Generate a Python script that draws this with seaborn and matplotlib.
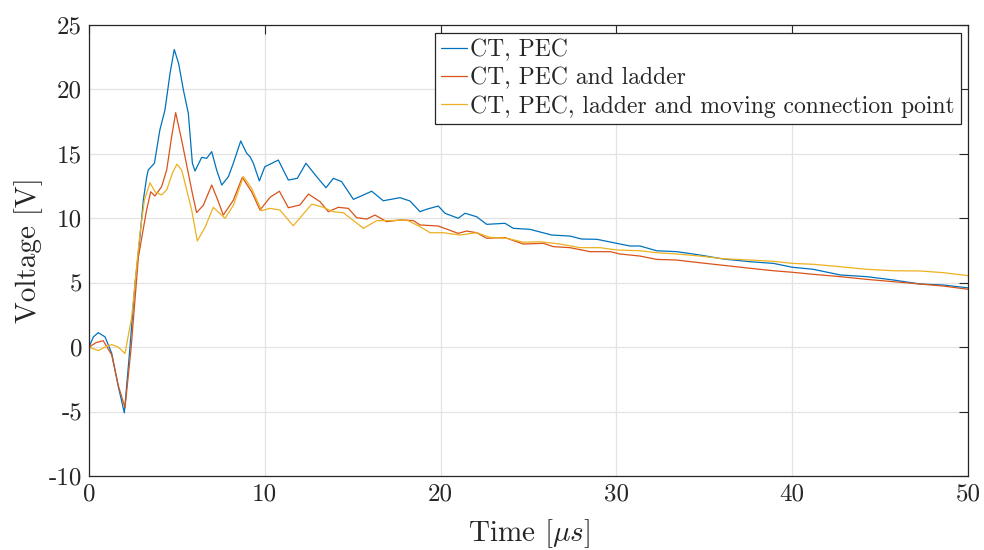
import numpy as np
import pandas as pd
import matplotlib
matplotlib.use("Agg")
import matplotlib.pyplot as plt
from matplotlib.ticker import FixedLocator, StrMethodFormatter
import seaborn as sns

series_names = ["CT, PEC", "CT, PEC and ladder", "CT, PEC, ladder and moving connection point"]

t_pec = [0, 0.25, 0.53, 0.91, 1.29, 1.67, 2.01, 2.3, 2.62, 2.9, 3.09, 3.28, 3.37, 3.72, 4.03, 4.32,
         4.61, 4.85, 5.1, 5.37, 5.65, 5.88, 6.03, 6.41, 6.69, 6.98, 7.26, 7.55, 7.93, 8.21, 8.63,
         8.97, 9.16, 9.35, 9.69, 10.0, 10.3, 10.77, 11.05, 11.34, 11.85, 12.34, 12.95, 13.48, 13.9,
         14.37, 15.04, 15.4, 16.08, 16.74, 17.69, 18.26, 18.83, 19.2, 19.87, 20.25, 21.0, 21.39,
         22.05, 22.62, 23.66, 24.14, 25.09, 26.32, 27.36, 28.02, 28.88, 30.01, 30.77, 31.34, 32.29,
         33.43, 34.75, 36.08, 37.6, 38.93, 40.01, 41.2, 42.74, 44.24, 45.76, 47.27, 48.6, 50]
v_pec = [0, 0.8, 1.12, 0.8, -0.47, -3.07, -5.1, -0.5, 4.95, 8.57, 11.4, 13.2, 13.75, 14.27, 16.85, 18.4,
         21.25, 23.1, 22.0, 19.95, 18.15, 14.27, 13.67, 14.73, 14.65, 15.17, 13.75, 12.58, 13.23, 14.27, 16.0,
         15.04, 14.78, 14.27, 12.9, 14.0, 14.2, 14.52, 13.75, 12.97, 13.1, 14.27, 13.23, 12.37, 13.1,
         12.84, 11.47, 11.68, 12.1, 11.36, 11.6, 11.34, 10.51, 10.7, 10.95, 10.39, 10.0, 10.39,
         10.12, 9.53, 9.61, 9.22, 9.14, 8.7, 8.62, 8.39, 8.37, 8.06, 7.85, 7.85, 7.48,
         7.41, 7.15, 6.84, 6.63, 6.5, 6.2, 6.04, 5.6, 5.47, 5.21, 4.9, 4.82, 4.6]

t_ladder = [0, 0.4, 0.81, 1.29, 1.67, 2.05, 2.4, 2.81, 3.27, 3.51, 3.75, 4.13, 4.42, 4.7, 4.93, 5.27,
            5.65, 5.9, 6.12, 6.5, 6.98, 7.3, 7.64, 8.21, 8.72, 9.25, 9.73, 10.3, 10.83, 11.34, 12.0,
            12.48, 13.14, 13.61, 14.18, 14.75, 15.22, 15.8, 16.27, 16.93, 17.69, 18.45, 18.83, 19.87,
            21.0, 21.48, 22.05, 22.62, 23.66, 24.71, 25.84, 26.41, 27.36, 28.5, 29.64, 30.2, 31.34,
            32.29, 33.43, 34.75, 36.08, 37.6, 38.93, 40.01, 41.2, 42.74, 44.24, 45.76, 47.27, 48.6, 50]
v_ladder = [0, 0.35, 0.5, -0.6, -3.0, -4.7, 0.0, 7.0, 10.6, 12.06, 11.73, 12.45, 13.75, 16.33, 18.2, 16.07,
            13.49, 11.8, 10.44, 11.0, 12.58, 11.5, 10.25, 11.4, 13.18, 12.06, 10.64, 11.63, 12.1, 10.82, 11.03,
            11.88, 11.29, 10.51, 10.85, 10.77, 10.05, 9.94, 10.25, 9.74, 9.87, 9.82, 9.48, 9.4,
            8.83, 9.01, 8.88, 8.45, 8.5, 8.0, 8.06, 7.8, 7.72, 7.41, 7.41, 7.23, 7.07,
            6.81, 6.76, 6.55, 6.35, 6.12, 5.93, 5.81, 5.65, 5.47, 5.26, 5.08, 4.9, 4.74, 4.49]

t_moving = [0, 0.53, 0.9, 1.29, 1.67, 2.05, 2.43, 2.9, 3.15, 3.47, 3.75, 4.13, 4.42, 4.74, 5.0, 5.27,
            5.56, 5.84, 6.16, 6.6, 7.07, 7.74, 8.21, 8.78, 9.25, 9.82, 10.3, 10.86, 11.62, 12.67, 13.33,
            13.9, 14.47, 15.61, 16.36, 17.12, 18.07, 18.83, 19.4, 20.15, 21.1, 22.05, 22.81, 23.76,
            24.71, 25.65, 26.79, 27.93, 29.07, 30.01, 31.34, 32.29, 33.43, 34.75, 36.08, 37.6, 38.93,
            40.01, 41.2, 42.74, 44.24, 45.76, 47.27, 48.6, 50]
v_moving = [0, -0.27, 0.0, 0.2, 0.0, -0.5, 2.36, 8.83, 11.4, 12.76, 12.06, 11.81, 12.2, 13.49, 14.2, 13.75,
            12.2, 10.64, 8.24, 9.3, 10.85, 10.0, 11.0, 13.23, 12.33, 10.59, 10.77, 10.64, 9.42, 11.1, 10.85,
            10.51, 10.43, 9.22, 9.82, 9.82, 9.87, 9.35, 8.88, 8.88, 8.7, 8.88, 8.52, 8.45,
            8.14, 8.18, 8.0, 7.72, 7.72, 7.54, 7.48, 7.33, 7.23, 7.07, 6.86, 6.76, 6.66,
            6.5, 6.43, 6.24, 6.04, 5.93, 5.91, 5.78, 5.55]

x_ticks = [0, 10, 20, 30, 40, 50]
y_ticks = [-10, -5, 0, 5, 10, 15, 20, 25]
colors = ["#0072BD", "#D95319", "#EDB120"]

df = pd.concat([
    pd.DataFrame({"t": t_pec, "v": v_pec, "s": series_names[0]}),
    pd.DataFrame({"t": t_ladder, "v": v_ladder, "s": series_names[1]}),
    pd.DataFrame({"t": t_moving, "v": v_moving, "s": series_names[2]}),
], ignore_index=True)

sns.set_theme(style="white")
plt.rcParams["font.family"] = ["cmr10", "DejaVu Serif"]
plt.rcParams["mathtext.fontset"] = "cm"
plt.rcParams["axes.unicode_minus"] = False
plt.rcParams["axes.formatter.use_mathtext"] = False

fig = plt.figure(figsize=(9.84, 5.5), dpi=100)
ax = fig.add_axes([89 / 984, 1 - 476 / 550, 879 / 984, 451 / 550])

sns.lineplot(data=df, x="t", y="v", hue="s", hue_order=series_names, palette=colors,
             estimator=None, sort=False, linewidth=0.9, ax=ax, legend=True)

ax.set_xlim(0, 50)
ax.set_ylim(-10, 25)
ax.xaxis.set_major_locator(FixedLocator(x_ticks))
ax.yaxis.set_major_locator(FixedLocator(y_ticks))
ax.xaxis.set_major_formatter(StrMethodFormatter("{x:g}"))
ax.yaxis.set_major_formatter(StrMethodFormatter("{x:g}"))
ax.grid(True, color="#e3e3e3", linewidth=0.9)
ax.set_axisbelow(True)
for sp in ax.spines.values():
    sp.set_color("#262626")
    sp.set_linewidth(0.9)
ax.tick_params(direction="in", length=6.5, width=0.8, color="#262626",
               top=True, right=True, labelsize=18, labelcolor="#262626", pad=5)

ax.set_xlabel(r"Time $[\mu s]$", fontsize=21, color="#262626", labelpad=9)
ax.set_ylabel("Voltage [V]", fontsize=21, color="#262626", labelpad=4)

leg = ax.legend(loc="upper right", bbox_to_anchor=((961 - 89) / 879, (476 - 33) / 451),
                borderaxespad=0, fontsize=17, frameon=True, fancybox=False,
                edgecolor="#262626", framealpha=1, handlelength=1.1, handletextpad=0.15,
                labelspacing=0.25, borderpad=0.25)
leg.get_frame().set_linewidth(0.9)
for line in leg.get_lines():
    line.set_linewidth(0.9)

fig.savefig("out.png", dpi=100)
